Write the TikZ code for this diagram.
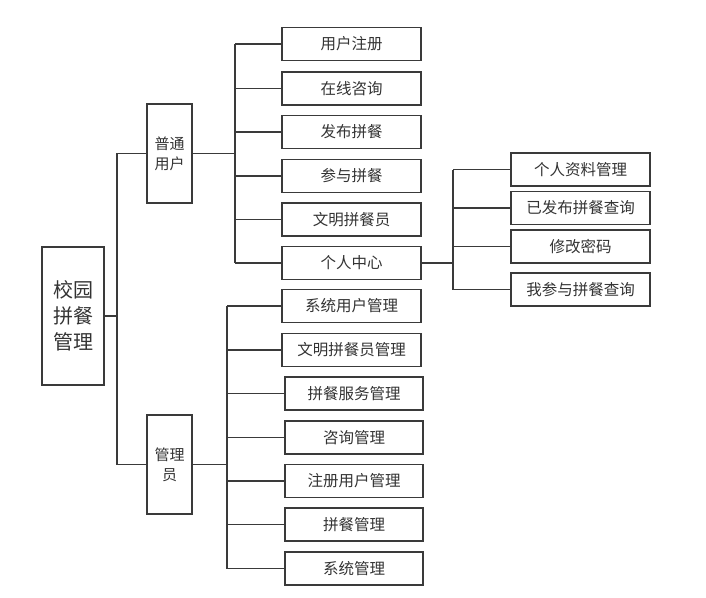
\documentclass[tikz,border=0pt]{standalone}
\usepackage{fontspec}
\newfontfamily\cjk{Noto Sans CJK SC}
\definecolor{ln}{HTML}{3A3A3A}
\definecolor{tx}{HTML}{333333}
\begin{document}
\begin{tikzpicture}[x=1pt,y=-1pt,
  box/.style={draw=ln,line width=1.3pt,inner sep=0pt,align=center,text=tx,font=\cjk\fontsize{15.5}{18}\selectfont},
  wbox/.style={box,minimum width=139pt,minimum height=33pt},
  tall/.style={box,minimum width=45pt,minimum height=99pt,font=\cjk\fontsize{15}{20}\selectfont},
  conn/.style={ln,line width=1.3pt}]
\useasboundingbox (0,0) rectangle (706,597);
\node[box,minimum width=62pt,minimum height=138pt,font=\cjk\fontsize{20}{26}\selectfont] (root) at (73,316) {校园\\拼餐\\管理};
\node[tall] (pt) at (169.5,153.5) {普通\\用户};
\node[tall] (gl) at (169.5,464.5) {管理\\员};
\node[wbox] (u1) at (351.5,44) {用户注册};
\node[wbox] (u2) at (351.5,88.5) {在线咨询};
\node[wbox] (u3) at (351.5,132) {发布拼餐};
\node[wbox] (u4) at (351.5,176) {参与拼餐};
\node[wbox] (u5) at (351.5,219.5) {文明拼餐员};
\node[wbox] (u6) at (351.5,263) {个人中心};
\node[wbox] (r1) at (580.5,169.5) {个人资料管理};
\node[wbox] (r2) at (580.5,208) {已发布拼餐查询};
\node[wbox] (r3) at (580.5,246.5) {修改密码};
\node[wbox] (r4) at (580.5,289.5) {我参与拼餐查询};
\node[wbox] (l1) at (351.5,306) {系统用户管理};
\node[wbox] (l2) at (351.5,350) {文明拼餐员管理};
\node[wbox,minimum width=138pt] (l3) at (354,393.5) {拼餐服务管理};
\node[wbox,minimum width=138pt] (l4) at (354,437.5) {咨询管理};
\node[wbox,minimum width=138pt] (l5) at (354,481) {注册用户管理};
\node[wbox,minimum width=138pt] (l6) at (354,524.5) {拼餐管理};
\node[wbox,minimum width=138pt] (l7) at (354,568.5) {系统管理};
\coordinate (tr) at (117,0);
\coordinate (b1) at (235,0);
\coordinate (b2) at (453,0);
\coordinate (b3) at (227,0);
% trunk
\draw[conn] (root.east) -- (root.east -| tr);
\draw[conn] (pt.west) -- (pt.west -| tr) |- (gl.west);
% upper bus
\draw[conn] (pt.east) -- (pt.east -| b1);
\draw[conn] (u1.west -| b1) -- (u6.west -| b1);
\foreach \n in {u1,u2,u3,u4,u5,u6} \draw[conn] (\n.west) -- (\n.west -| b1);
% right bus
\draw[conn,line width=1.8pt] (u6.east) -- (u6.east -| b2);
\draw[conn] (r1.west -| b2) -- (r4.west -| b2);
\foreach \n in {r1,r2,r3,r4} \draw[conn] (\n.west) -- (\n.west -| b2);
% lower bus
\draw[conn] (gl.east) -- (gl.east -| b3);
\draw[conn] (l1.west -| b3) -- (l7.west -| b3);
\foreach \n in {l1,l2,l3,l4,l5,l6,l7} \draw[conn] (\n.west) -- (\n.west -| b3);
\end{tikzpicture}
\end{document}
